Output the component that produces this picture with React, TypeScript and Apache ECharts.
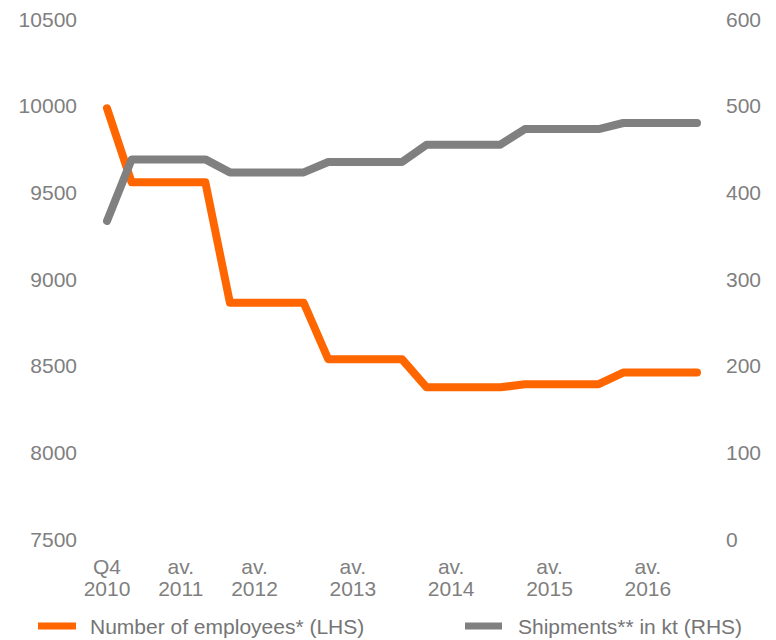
import React, { useEffect, useRef } from "react";
import * as echarts from "echarts";

const quarters = [
  "Q4 2010",
  "Q1 2011", "Q2 2011", "Q3 2011", "Q4 2011",
  "Q1 2012", "Q2 2012", "Q3 2012", "Q4 2012",
  "Q1 2013", "Q2 2013", "Q3 2013", "Q4 2013",
  "Q1 2014", "Q2 2014", "Q3 2014", "Q4 2014",
  "Q1 2015", "Q2 2015", "Q3 2015", "Q4 2015",
  "Q1 2016", "Q2 2016", "Q3 2016", "Q4 2016",
];

const tickLabels = [
  "Q4\n2010", "", "", "av.\n2011", "", "", "av.\n2012", "", "", "", "av.\n2013", "", "", "",
  "av.\n2014", "", "", "", "av.\n2015", "", "", "", "av.\n2016", "", "",
];

const employees = [
  9985,
  9558, 9558, 9558, 9558,
  8863, 8863, 8863, 8863,
  8537, 8537, 8537, 8537,
  8375, 8375, 8375, 8375,
  8393, 8393, 8393, 8393,
  8460, 8460, 8460, 8460,
];

const shipments = [
  367,
  438, 438, 438, 438,
  423, 423, 423, 423,
  435, 435, 435, 435,
  455, 455, 455, 455,
  473, 473, 473, 473,
  480, 480, 480, 480,
];

const leftTicks = { min: 7500, max: 10500, interval: 500 };
const rightTicks = { min: 0, max: 600, interval: 100 };

const ORANGE = "#FF6600";
const GREY = "#808080";
const TEXT = "#7f7f7f";
const FONT = "'Liberation Sans', Arial, sans-serif";

export default function App() {
  const ref = useRef<HTMLDivElement>(null);
  useEffect(() => {
    if (!ref.current) return;
    const chart = echarts.init(ref.current, null, { renderer: "svg" });
    chart.setOption({
      animation: false,
      backgroundColor: "#ffffff",
      textStyle: { fontFamily: FONT },
      grid: { left: 107, right: 79, top: 19, bottom: 101, containLabel: false },
      legend: [
        {
          data: ["Number of employees* (LHS)"],
          left: 38,
          top: 615,
          padding: 0,
          icon: "rect",
          itemWidth: 38,
          itemHeight: 7,
          textStyle: { color: "#757575", fontSize: 21, fontFamily: FONT, lineHeight: 22, padding: [0, 0, 0, 9] },
        },
        {
          data: ["Shipments** in kt (RHS)"],
          left: 465,
          top: 615,
          padding: 0,
          icon: "rect",
          itemWidth: 37,
          itemHeight: 7,
          textStyle: { color: "#757575", fontSize: 21, fontFamily: FONT, lineHeight: 22, padding: [0, 0, 0, 11] },
        },
      ],
      xAxis: {
        type: "category",
        data: quarters,
        boundaryGap: false,
        axisLine: { show: false },
        axisTick: { show: false },
        splitLine: { show: false },
        axisLabel: {
          interval: 0,
          margin: 16,
          color: TEXT,
          fontSize: 21,
          lineHeight: 22,
          fontFamily: FONT,
          formatter: (_v: string, i: number) => tickLabels[i] || "",
        },
      },
      yAxis: [
        {
          type: "value",
          position: "left",
          min: leftTicks.min,
          max: leftTicks.max,
          interval: leftTicks.interval,
          axisLine: { show: false },
          axisTick: { show: false },
          splitLine: { show: false },
          axisLabel: { margin: 30, color: TEXT, fontSize: 21, fontFamily: FONT, formatter: (v: number) => String(v) },
        },
        {
          type: "value",
          position: "right",
          min: rightTicks.min,
          max: rightTicks.max,
          interval: rightTicks.interval,
          axisLine: { show: false },
          axisTick: { show: false },
          splitLine: { show: false },
          axisLabel: { margin: 29, color: TEXT, fontSize: 21, fontFamily: FONT, formatter: (v: number) => String(v) },
        },
      ],
      series: [
        {
          name: "Number of employees* (LHS)",
          type: "line",
          yAxisIndex: 0,
          data: employees,
          showSymbol: false,
          symbol: "none",
          color: ORANGE,
          lineStyle: { color: ORANGE, width: 8, cap: "round", join: "round" },
        },
        {
          name: "Shipments** in kt (RHS)",
          type: "line",
          yAxisIndex: 1,
          data: shipments,
          showSymbol: false,
          symbol: "none",
          color: GREY,
          lineStyle: { color: GREY, width: 8, cap: "round", join: "round" },
        },
      ],
    });
    return () => chart.dispose();
  }, []);
  return (
    <div
      ref={ref}
      style={{ position: "absolute", left: 0, top: 0, width: 776, height: 640 }}
    />
  );
}
